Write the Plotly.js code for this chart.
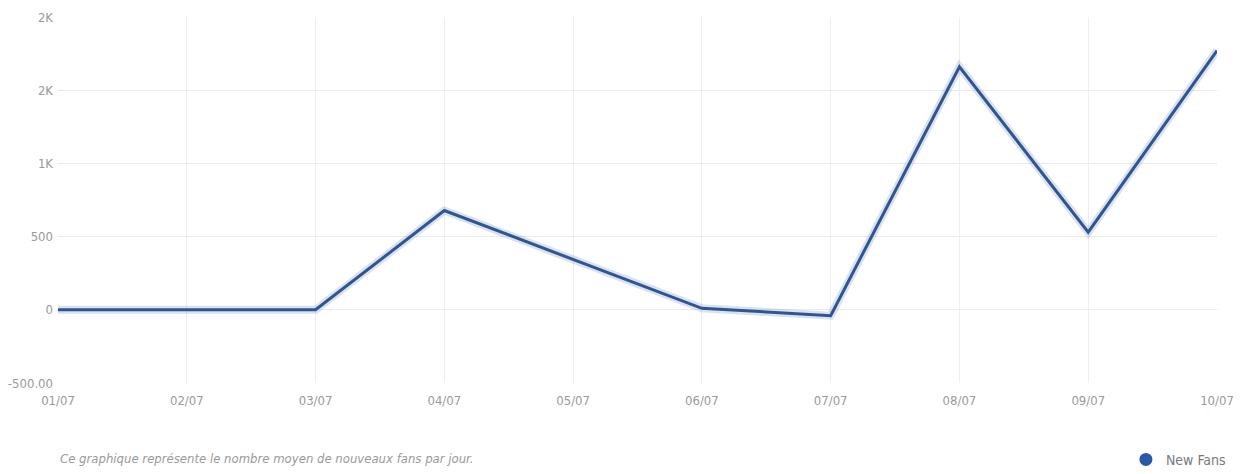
<!DOCTYPE html>
<html>
<head>
<meta charset="utf-8">
<script src="https://cdn.plot.ly/plotly-3.0.1.min.js"></script>
<style>html,body{margin:0;padding:0;background:#fff;}#chart{width:1243px;height:474px;}</style>
</head>
<body>
<div id="chart"></div>
<script>
const dates = ["01/07","02/07","03/07","04/07","05/07","06/07","07/07","08/07","09/07","10/07"];
const newFans = [0, 0, 0, 678, 342, 10, -40, 1660, 530, 1770];
const yTickVals = [-500, 0, 500, 1000, 1500, 2000];
const yTickText = ["-500.00", "0", "500", "1K", "2K", "2K"];
const seriesName = "New Fans";
const caption = "Ce graphique représente le nombre moyen de nouveaux fans par jour.";

const fontFam = "'DejaVu Sans Condensed', 'Liberation Sans Narrow', sans-serif";

const traces = [
  {x: dates, y: newFans, type: "scatter", mode: "lines", showlegend: false, hoverinfo: "skip",
   line: {color: "rgba(110,150,210,0.28)", width: 8}},
  {x: dates, y: newFans, type: "scatter", mode: "lines", showlegend: false, name: seriesName,
   line: {color: "#34558c", width: 3}},
  {x: [dates[0]], y: [null], type: "scatter", mode: "markers", name: seriesName,
   marker: {color: "#2a59a5", size: 13, symbol: "circle"}}
];

const layout = {
  width: 1243, height: 474,
  margin: {l: 58, r: 26, t: 17, b: 91, autoexpand: false},
  paper_bgcolor: "#fff", plot_bgcolor: "#fff",
  font: {family: fontFam, color: "#9a9a9a", size: 13},
  xaxis: {type: "category", range: [0, 9], showgrid: true, gridcolor: "#eeeeee", gridwidth: 1,
    zeroline: false, showline: false, ticks: "", ticklabelstandoff: 8,
    tickfont: {size: 13, color: "#9a9a9a"}, fixedrange: true},
  yaxis: {range: [-500, 2000], tickvals: yTickVals, ticktext: yTickText, showgrid: true,
    gridcolor: "#eaeaea", gridwidth: 1, zeroline: false, showline: false, ticks: "",
    ticklabelstandoff: 4, tickfont: {size: 13, color: "#9a9a9a"}, fixedrange: true},
  showlegend: true,
  legend: {x: 1.012, xanchor: "right", y: -0.21, yanchor: "middle", orientation: "h",
    font: {size: 14, color: "#7a7a7a"}, bgcolor: "rgba(0,0,0,0)"},
  annotations: [{text: caption, xref: "paper", yref: "paper", x: 0, y: -0.205,
    xanchor: "left", yanchor: "middle", showarrow: false,
    font: {family: fontFam, size: 13, color: "#9a9a9a", style: "italic"}}]
};

Plotly.newPlot("chart", traces, layout, {displayModeBar: false, staticPlot: true});
</script>
</body>
</html>
